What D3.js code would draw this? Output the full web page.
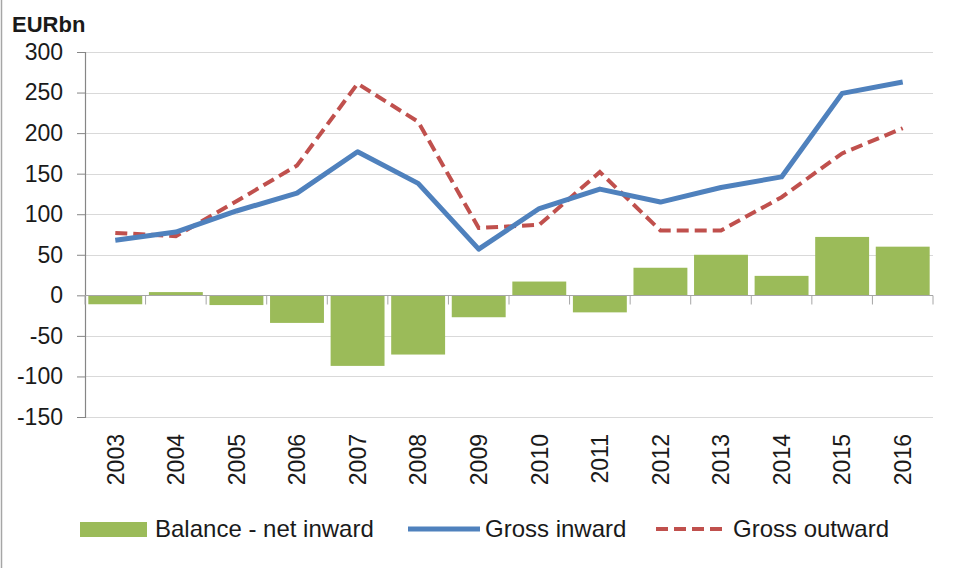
<!DOCTYPE html>
<html>
<head>
<meta charset="utf-8">
<script src="https://cdn.jsdelivr.net/npm/d3@7"></script>
<style>
  html, body { margin: 0; padding: 0; background: #fff; }
  svg { display: block; }
  text { font-family: "Liberation Sans", Arial, sans-serif; fill: #1a1a1a; }
</style>
</head>
<body>
<svg id="chart" width="958" height="568"></svg>
<script>
const years = ["2003","2004","2005","2006","2007","2008","2009","2010","2011","2012","2013","2014","2015","2016"];
const balance = [-11, 4, -12, -34, -87, -73, -27, 17, -21, 34, 50, 24, 72, 60];
const grossInward = [68, 78, 104, 126, 177, 138, 57, 107, 131, 115, 133, 146, 249, 263];
const grossOutward = [77, 73, 116, 160, 261, 214, 83, 87, 152, 80, 80, 121, 175, 206];
const yTicks = [-150, -100, -50, 0, 50, 100, 150, 200, 250, 300];
const unitLabel = "EURbn";
const legendLabels = ["Balance - net inward", "Gross inward", "Gross outward"];

const colors = { bar: "#9BBB59", inward: "#4F81BD", outward: "#C0504D" };

(function draw() {
const svg = d3.select("#chart");
const pLeft = 85, pRight = 933, pTop = 52, pBottom = 417;

const x = d3.scaleBand().domain(years).range([pLeft, pRight]).paddingInner(0.11).paddingOuter(0.055);
const y = d3.scaleLinear().domain([-150, 300]).range([pBottom, pTop]);

// chart frame (left edge)
svg.append("line").attr("x1", 1.5).attr("x2", 1.5).attr("y1", 0).attr("y2", 568)
  .attr("stroke", "#a6a6a6").attr("stroke-width", 1.5);

// gridlines
svg.append("g").selectAll("line").data(yTicks.filter(d => d !== 0)).join("line")
  .attr("x1", pLeft).attr("x2", pRight)
  .attr("y1", d => Math.round(y(d)) + 0.5).attr("y2", d => Math.round(y(d)) + 0.5)
  .attr("stroke", "#d9d9d9").attr("stroke-width", 1);

// y axis
const yAxis = d3.axisLeft(y).tickValues(yTicks).tickSize(8).tickPadding(14).tickFormat(d => String(d));
const gy = svg.append("g").attr("transform", `translate(${pLeft},0)`).call(yAxis);
gy.select(".domain").attr("stroke", "#868686").attr("stroke-width", 1.2);
gy.selectAll(".tick line").attr("stroke", "#868686");
gy.selectAll(".tick text").attr("font-size", 23).attr("font-family", "Liberation Sans, Arial, sans-serif").attr("fill", "#1a1a1a");

// bars
svg.append("g").selectAll("rect").data(years).join("rect")
  .attr("x", d => x(d))
  .attr("width", x.bandwidth())
  .attr("y", (d, i) => y(Math.max(0, balance[i])))
  .attr("height", (d, i) => Math.abs(y(balance[i]) - y(0)))
  .attr("fill", colors.bar);

// category axis at zero
const zeroY = Math.round(y(0)) + 0.5;
svg.append("line").attr("x1", pLeft).attr("x2", pRight).attr("y1", zeroY).attr("y2", zeroY)
  .attr("stroke", "#a6a6a6").attr("stroke-width", 1);
const boundaries = years.map(d => x(d) - x.step() * x.paddingInner() / 2).concat([pRight]);
boundaries[0] = pLeft;
svg.append("g").selectAll("line").data(boundaries).join("line")
  .attr("x1", d => d).attr("x2", d => d)
  .attr("y1", zeroY).attr("y2", zeroY + 9)
  .attr("stroke", "#a6a6a6").attr("stroke-width", 1);

// x labels at bottom (rotated)
svg.append("g").selectAll("text").data(years).join("text")
  .attr("transform", d => `translate(${x(d) + x.bandwidth() / 2},434) rotate(-90)`)
  .attr("text-anchor", "end")
  .attr("dy", "0.36em")
  .attr("font-size", 23)
  .text(d => d);

// lines
const cx = d => x(d) + x.bandwidth() / 2;
const line = d3.line().x(d => cx(d[0])).y(d => y(d[1]));

svg.append("path")
  .datum(years.map((d, i) => [d, grossOutward[i]]))
  .attr("d", line).attr("fill", "none")
  .attr("stroke", colors.outward).attr("stroke-width", 4)
  .attr("stroke-dasharray", "12,6");

svg.append("path")
  .datum(years.map((d, i) => [d, grossInward[i]]))
  .attr("d", line).attr("fill", "none")
  .attr("stroke", colors.inward).attr("stroke-width", 5)
  .attr("stroke-linejoin", "round");

// unit label
svg.append("text").attr("x", 12).attr("y", 32)
  .attr("font-size", 22).attr("font-weight", "bold").text(unitLabel);

// legend
const lg = svg.append("g");
lg.append("rect").attr("x", 80).attr("y", 522).attr("width", 67).attr("height", 15).attr("fill", colors.bar);
lg.append("text").attr("x", 155).attr("y", 537).attr("font-size", 24).text(legendLabels[0]);
lg.append("line").attr("x1", 408).attr("x2", 480).attr("y1", 529).attr("y2", 529)
  .attr("stroke", colors.inward).attr("stroke-width", 5);
lg.append("text").attr("x", 485).attr("y", 537).attr("font-size", 24).text(legendLabels[1]);
lg.append("line").attr("x1", 656).attr("x2", 726).attr("y1", 529).attr("y2", 529)
  .attr("stroke", colors.outward).attr("stroke-width", 4).attr("stroke-dasharray", "12,6");
lg.append("text").attr("x", 733).attr("y", 537).attr("font-size", 24).text(legendLabels[2]);
})();
</script>
</body>
</html>
